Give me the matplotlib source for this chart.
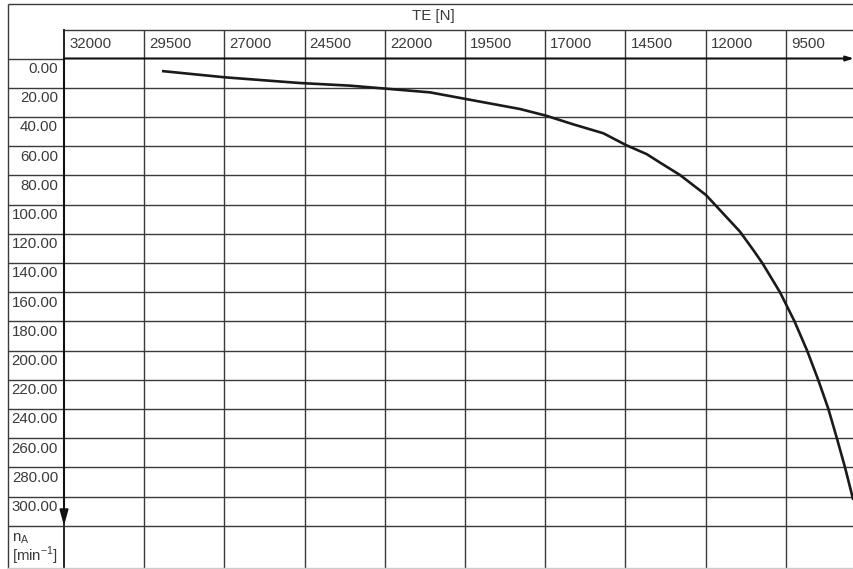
import matplotlib
matplotlib.use("Agg")
import matplotlib.pyplot as plt
import numpy as np

# ---- data ----
te_ticks = [32000, 29500, 27000, 24500, 22000, 19500, 17000, 14500, 12000, 9500]
rpm_ticks = [0, 20, 40, 60, 80, 100, 120, 140, 160, 180, 200, 220, 240, 260, 280, 300]
curve_te = [28945, 26981, 24643, 23085, 20591, 17785, 16984, 16124, 15189, 14481,
            13836, 13421, 12798, 11988, 10928, 10513, 10226, 9681,
            9229, 8839, 8496, 8175, 7913, 7655, 7396]
curve_rpm = [8.6, 12.9, 16.8, 18.6, 23.2, 34.6, 39.1, 45.1, 51.2, 59.3,
             65.5, 71.3, 79.8, 93.5, 118.6, 131.2, 140.3, 160.1,
             180.0, 199.9, 219.7, 239.9, 259.7, 280.0, 302.4]
x_title = "TE [N]"

W, H = 854, 569
fig = plt.figure(figsize=(W / 100, H / 100), dpi=100)
plt.rcParams['font.family'] = ['Liberation Sans', 'DejaVu Sans']

x0_px, y0_px = 64.0, 58.5
col_px, row_px = 80.2, 29.2
ax = fig.add_axes([x0_px / W, 0, 1 - x0_px / W, 1 - y0_px / H])
te_per_px = 2500 / col_px
rpm_per_px = 20 / row_px
ax.set_xlim(32000, 32000 - (W - x0_px) * te_per_px)
ax.set_ylim((H - y0_px) * rpm_per_px, 0)
ax.axis('off')

def tx(px):  # pixel x -> data TE
    return 32000 - (px - x0_px) * te_per_px

def ry(py):  # pixel y -> data rpm
    return (py - y0_px) * rpm_per_px

left_te = tx(8)
right_te = ax.get_xlim()[1]
top_rpm = ry(4)
hdr_rpm = ry(30)
bot_rpm = ax.get_ylim()[0]

gc = '#3a3a3a'
lw = 1.0
kw = dict(color=gc, lw=lw, clip_on=False, solid_capstyle='butt')
# outer frame
ax.plot([left_te, right_te], [top_rpm, top_rpm], **kw)
ax.plot([left_te, left_te], [top_rpm, bot_rpm], **kw)
# header line
ax.plot([32000, right_te], [hdr_rpm, hdr_rpm], **kw)
# vertical grid lines
for t in te_ticks[1:]:
    ax.plot([t, t], [hdr_rpm, bot_rpm], **kw)
ax.plot([32000, 32000], [hdr_rpm, bot_rpm], color='#222', lw=1.4, clip_on=False)
# horizontal grid lines
for r in rpm_ticks[1:] + [320]:
    ax.plot([left_te, right_te], [r, r], **kw)
ax.plot([left_te, 32000], [0, 0], **kw)
ax.plot([left_te, right_te], [bot_rpm - 0.4, bot_rpm - 0.4], color='#cccccc',
        lw=1.0, clip_on=False)

# axis arrows
ax.annotate('', xy=(right_te, 0), xytext=(32000, 0),
            arrowprops=dict(arrowstyle='-|>,head_length=0.45,head_width=0.14',
                            color='#111', lw=1.5, shrinkA=0, shrinkB=0),
            annotation_clip=False)
ax.annotate('', xy=(32000, 320), xytext=(32000, 0),
            arrowprops=dict(arrowstyle='-|>,head_length=0.9,head_width=0.25',
                            color='#111', lw=1.5, shrinkA=0, shrinkB=0),
            annotation_clip=False)

fs = 10.8
tc = '#3a3a3a'
# column labels
for t in te_ticks:
    ax.text(t - 5 * te_per_px, ry(44), str(t), fontsize=fs, color=tc,
            ha='left', va='center', clip_on=False)
# row labels
for r in rpm_ticks:
    ax.text(tx(58), r + 10.5 * rpm_per_px, f"{r:.2f}", fontsize=fs, color=tc,
            ha='right', va='center', clip_on=False)
# title
ax.text(tx(433), ry(16), x_title, fontsize=fs, color=tc, ha='center',
        va='center', clip_on=False)
# n_A label
ax.text(tx(12), ry(539), r'n$_\mathregular{A}$', fontsize=fs, color=tc,
        ha='left', va='center', clip_on=False)
ax.text(tx(12), ry(556), r'[min$^\mathregular{-1}$]', fontsize=fs, color=tc,
        ha='left', va='center', clip_on=False)

# curve
ax.plot(curve_te, curve_rpm, color='#1a1a1a', lw=1.9, solid_capstyle='butt',
        solid_joinstyle='round')

fig.savefig('out.png', dpi=100)
